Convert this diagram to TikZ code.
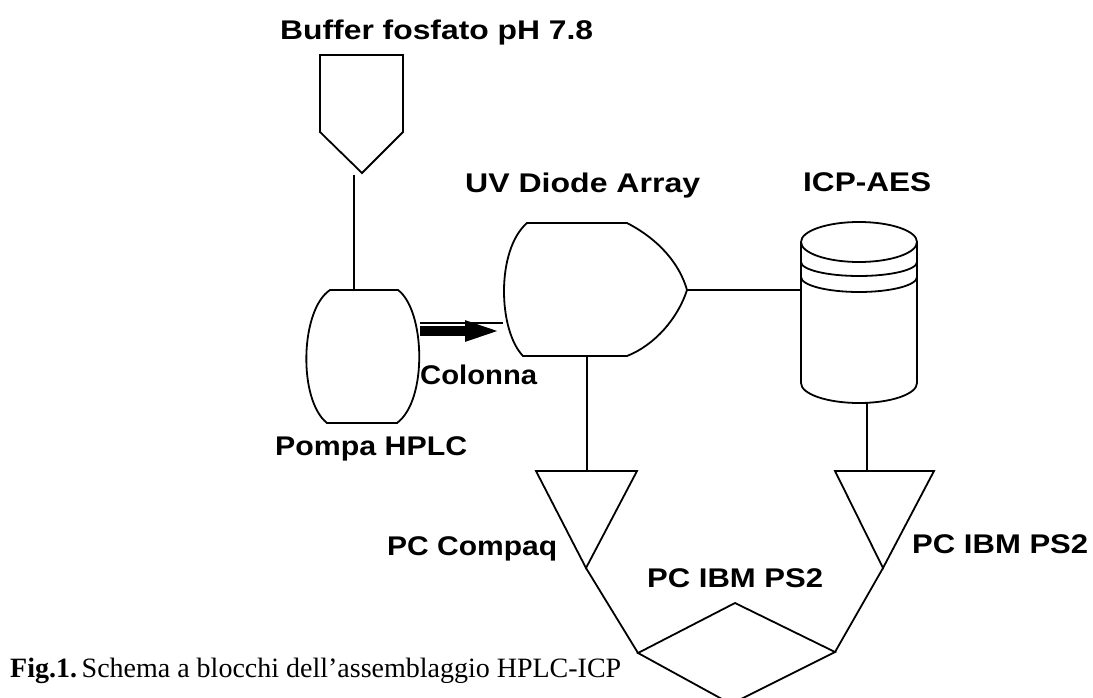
\documentclass[tikz,border=0pt]{standalone}
\usepackage{fontspec}
\usepackage{graphicx}
\usetikzlibrary{arrows.meta}
\newfontfamily\labfont{Liberation Sans}
\newfontfamily\capfont{Liberation Serif}
\newcommand\fitto[2]{\resizebox{#1}{\height}{#2}}
\tikzset{
  lbl/.style={inner sep=0pt, anchor=base west, font=\labfont\bfseries\fontsize{27bp}{30bp}\selectfont},
  ln/.style={line width=1.8bp, line join=miter, draw=black},
  blk/.style={ln, fill=white},
}
\begin{document}
\begin{tikzpicture}[x=1bp,y=-1bp]
\useasboundingbox (0,0) rectangle (1093,698);
\fill[white] (0,0) rectangle (1093,698);
\clip (0,0) rectangle (1093,698);

% ---------- labels ----------
\node[lbl] (buffer) at (280,40) {\fitto{313bp}{Buffer fosfato pH 7.8}};
\node[lbl] (uvlbl) at (465,192) {\fitto{235bp}{UV Diode Array}};
\node[lbl] (icplbl) at (803,192) {\fitto{128bp}{ICP-AES}};
\node[lbl] (colonna) at (420,384) {\fitto{117bp}{Colonna}};
\node[lbl] (pompa) at (275,455) {\fitto{192bp}{Pompa HPLC}};
\node[lbl] (compaq) at (387,555) {\fitto{170bp}{PC Compaq}};
\node[lbl] (ibmmid) at (647,587) {\fitto{176bp}{PC IBM PS2}};
\node[lbl] (ibmright) at (912,553) {\fitto{176bp}{PC IBM PS2}};
\node[inner sep=0pt, anchor=base west, font=\capfont\fontsize{28bp}{30bp}\selectfont]
  (caption) at (10,677) {\fitto{611bp}{\textbf{Fig.1.}\,Schema a blocchi dell’assemblaggio HPLC-ICP}};

% ---------- connection points ----------
\coordinate (bottle-b) at (354,175);
\coordinate (pump-t) at (354,290);
\coordinate (pump-r) at (420,331);
\coordinate (uv-l) at (503,331);
\coordinate (pump-r2) at (420,323);
\coordinate (uv-l2) at (503,323);
\coordinate (uv-tip) at (687,290);
\coordinate (icp-l) at (801,290);
\coordinate (uv-b) at (587,356);
\coordinate (pcl-t) at (587,471);
\coordinate (icp-b) at (867,403);
\coordinate (pcr-t) at (867,471);
\coordinate (pcl-tip) at (586,568);
\coordinate (pcr-tip) at (883,568);
\coordinate (dia-l) at (638,653);
\coordinate (dia-r) at (835,652);
\coordinate (dia-t) at (735,603);
\coordinate (dia-b) at (731,704);

% ---------- shapes ----------
% buffer vessel
\draw[blk] (320,55) -- (403,55) -- (403,132) -- (362,173) -- (320,132) -- cycle;
% pump
\draw[blk] (330,290) -- (398,290)
  .. controls (425,310) and (428,400) .. (397,423)
  -- (327,423)
  .. controls (298,400) and (300,310) .. (330,290) -- cycle;
% UV diode array
\draw[blk] (527,223) -- (627,223)
  .. controls (660,240) and (680,265) .. (uv-tip)
  .. controls (678,318) and (655,345) .. (627,356)
  -- (523,356)
  .. controls (498,330) and (496,250) .. (527,223) -- cycle;
% ICP-AES cylinder
\draw[blk] (801,242) -- (801,383) arc[start angle=180, end angle=360, x radius=58, y radius=-20]
  -- (917,242);
\draw[ln] (859,242) ellipse[x radius=58, y radius=20];
\draw[ln] (801,262) arc[start angle=180, end angle=360, x radius=58, y radius=-14];
\draw[ln] (801,277) arc[start angle=180, end angle=360, x radius=58, y radius=-15];
% PC triangles
\draw[blk] (536,471) -- (637,471) -- (pcl-tip) -- cycle;
\draw[blk] (835,471) -- (934,471) -- (pcr-tip) -- cycle;
% diamond
\draw[blk] (dia-t) -- (dia-r) -- (dia-b) -- (dia-l) -- cycle;

% ---------- connectors ----------
\draw[ln] (bottle-b) -- (pump-t);
\draw[line width=1.5bp] (pump-r2) -- (uv-l2);
\draw[line width=10bp, -{Triangle[length=38bp,width=18bp]}] (pump-r) -- (uv-l);
\draw[ln] (uv-tip) -- (icp-l);
\draw[ln] (uv-b) -- (pcl-t);
\draw[ln] (icp-b) -- (pcr-t);
\draw[ln] (pcl-tip) -- (dia-l);
\draw[ln] (pcr-tip) -- (dia-r);
\end{tikzpicture}
\end{document}
